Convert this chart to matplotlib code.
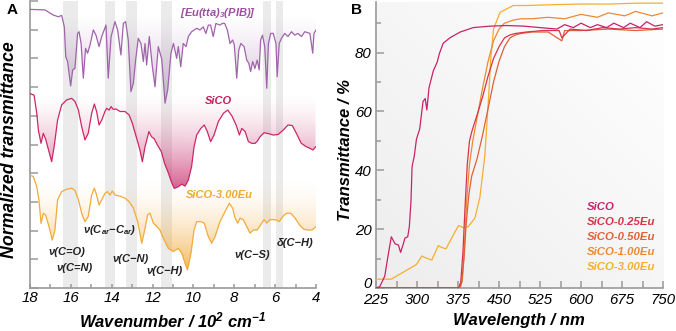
import numpy as np
import matplotlib
matplotlib.use("Agg")
from matplotlib import pyplot as plt
from matplotlib.path import Path
from matplotlib.colors import to_rgb
from matplotlib.ticker import MultipleLocator

plt.rcParams['font.family'] = ['Liberation Sans', 'DejaVu Sans']
plt.rcParams['mathtext.fontset'] = 'custom'
plt.rcParams['mathtext.it'] = 'Liberation Sans:italic:bold'
plt.rcParams['mathtext.rm'] = 'Liberation Sans:italic:bold'
plt.rcParams['mathtext.bf'] = 'Liberation Sans:italic:bold'

# ---- panel A : FTIR (wavenumber in 10^2 cm-1, normalized transmittance) ----
eu_wn = [18.1, 17.27, 16.86, 16.61, 16.45, 16.32, 16.25, 16.16, 16.01, 15.91, 15.8, 15.67, 15.6, 15.5,
         15.39, 15.28, 15.18, 15.06, 14.9, 14.77, 14.62, 14.49, 14.28, 14.17, 14.03, 13.84, 13.71,
         13.55, 13.43, 13.32, 13.19, 13.06, 12.94, 12.83, 12.7, 12.57, 12.45, 12.37, 12.29, 12.16,
         12.01, 11.88, 11.72, 11.55, 11.39, 11.26, 11.1, 10.98, 10.82, 10.74, 10.62, 10.5, 10.36,
         10.25, 10.09, 9.84, 9.68, 9.52, 9.39, 9.27, 9.16, 9.03, 8.9, 8.71, 8.58, 8.47, 8.34, 8.21,
         8.08, 8.0, 7.88, 7.78, 7.68, 7.52, 7.39, 7.29, 7.2, 7.1, 6.99, 6.88, 6.78, 6.71, 6.62, 6.51,
         6.41, 6.33, 6.22, 6.09, 5.96, 5.9, 5.8, 5.69, 5.53, 5.37, 5.2, 5.04, 4.88, 4.71, 4.55, 4.3,
         4.16, 4.1, 3.97]
eu_tr = [9.71, 9.69, 9.51, 9.45, 9.5, 9.1, 8.06, 7.89, 7.04, 7.6, 7.65, 8.87, 8.93, 8.53,
         7.31, 8.35, 8.18, 8.47, 8.99, 8.81, 8.41, 8.76, 9.16, 7.31, 8.76, 9.28, 8.99,
         8.12, 9.22, 9.28, 8.64, 6.84, 7.13, 7.94, 8.7, 8.52, 7.89, 8.52, 7.77, 8.76,
         7.71, 7.01, 8.41, 7.97, 6.44, 6.9, 8.18, 8.52, 8.0, 8.41, 7.71, 8.52, 8.41,
         8.76, 8.93, 9.05, 8.99, 9.1, 8.87, 9.16, 9.16, 8.76, 9.22, 9.16, 9.22, 9.22, 8.99, 8.52,
         8.64, 8.47, 7.31, 8.29, 8.52, 8.41, 7.94, 7.83, 7.54, 7.89, 7.65, 7.94, 7.6, 8.64, 8.81, 8.41,
         6.96, 8.52, 8.87, 8.87, 8.52, 7.36, 8.52, 8.7, 8.87, 8.76, 8.93, 8.81, 8.87, 8.76, 8.93, 8.87,
         8.18, 8.87, 9.02]

sico_wn = [18.1, 17.8, 17.67, 17.59, 17.46, 17.35, 17.24, 17.07, 16.94, 16.81, 16.65, 16.45, 16.21,
           15.96, 15.8, 15.63, 15.47, 15.31, 15.15, 14.98, 14.85, 14.74, 14.62, 14.49, 14.33, 14.25,
           14.13, 14.03, 13.92, 13.8, 13.59, 13.35, 13.15, 12.99, 12.78, 12.62, 12.5, 12.37, 12.18,
           12.05, 11.92, 11.76, 11.57, 11.41, 11.25, 11.08, 10.94, 10.74, 10.57, 10.41, 10.25, 10.09,
           9.97, 9.84, 9.64, 9.47, 9.32, 9.16, 8.99, 8.78, 8.53, 8.32, 8.12, 7.91, 7.75, 7.63, 7.47,
           7.31, 7.14, 6.98, 6.87, 6.74, 6.54, 6.33, 6.09, 5.85, 5.61, 5.37, 5.16, 4.96, 4.72, 4.47,
           4.28, 4.15, 4.02]
sico_tr = [6.8, 6.72, 6.09, 5.5, 5.04, 5.39, 5.2, 4.75, 4.4, 4.97, 5.85, 6.38, 6.55,
           6.61, 6.5, 6.2, 5.62, 5.16, 5.39, 6.09, 6.41, 6.15, 5.68, 5.85, 6.15, 6.26,
           6.2, 6.32, 6.22, 6.24, 6.15, 6.15, 6.03, 5.74, 5.22, 4.81, 4.4, 4.92, 5.45,
           5.27, 5.2, 4.98, 4.75, 4.34, 4.05, 3.7, 3.47, 3.53, 3.62, 3.55, 3.76, 4.23,
           4.92, 5.33, 5.56, 5.68, 5.45, 5.1, 5.33, 5.8, 6.09, 6.2, 6.0, 5.68, 5.33, 5.56, 5.45,
           5.1, 5.04, 5.04, 5.12, 5.27, 5.41, 5.38, 5.33, 5.35, 5.5, 5.68, 5.66, 5.39, 5.04, 4.92,
           4.86, 4.81, 4.92]

eu3_wn = [18.1, 17.84, 17.67, 17.56, 17.46, 17.35, 17.24, 17.07, 16.91, 16.78, 16.65, 16.45, 16.21,
          15.96, 15.8, 15.63, 15.47, 15.31, 15.15, 14.98, 14.85, 14.74, 14.62, 14.49, 14.33, 14.2,
          14.08, 13.97, 13.84, 13.59, 13.35, 13.15, 12.94, 12.73, 12.53, 12.4, 12.24, 12.13, 11.96,
          11.8, 11.64, 11.47, 11.23, 10.98, 10.74, 10.57, 10.41, 10.29, 10.12, 9.97, 9.84, 9.64,
          9.47, 9.27, 9.11, 8.94, 8.7, 8.45, 8.24, 8.08, 7.96, 7.83, 7.72, 7.56, 7.39, 7.23, 7.07,
          6.88, 6.71, 6.54, 6.41, 6.25, 6.0, 5.79, 5.63, 5.43, 5.23, 5.02, 4.81, 4.61, 4.41, 4.2, 3.98]
eu3_tr = [3.94, 3.89, 3.53, 3.06, 2.25, 2.6, 2.55, 2.14, 1.67, 2.02, 3.07, 3.36, 3.44,
          3.48, 3.4, 3.07, 2.6, 2.31, 2.49, 3.24, 3.48, 3.24, 2.89, 3.07, 3.3, 3.36,
          3.24, 3.38, 3.24, 3.2, 3.13, 3.01, 2.78, 2.31, 1.56, 1.97, 2.55, 2.61, 2.26,
          2.15, 2.02, 1.73, 1.38, 1.27, 1.38, 1.21, 0.86, 0.63, 1.21, 2.02, 2.31, 2.31,
          2.26, 1.79, 1.56, 1.79, 2.31, 2.67, 2.95, 2.78, 2.43, 2.26, 2.43, 2.38, 2.14, 1.91, 2.02,
          2.02, 2.2, 2.38, 2.26, 2.38, 2.38, 2.32, 2.49, 2.61, 2.6, 2.43, 2.2, 2.05, 2.02, 2.02, 2.14]

bands = [(16.38, 15.65), (14.33, 13.84), (13.30, 12.76), (11.59, 11.05), (6.60, 6.20), (5.96, 5.62)]

# ---- panel B : UV-vis transmittance ----
sico_nm = [225, 232, 241, 247, 253, 257, 260, 266, 270, 275, 278, 283, 286, 289, 291, 295, 299, 305,
           311, 315, 318, 322, 330, 337, 341, 348, 360, 379, 403, 434, 464, 495, 525, 556, 570, 586,
           600, 617, 630, 647, 660, 678, 690, 708, 720, 735, 750]
sico_t = [0, 0.5, 4, 10.9, 17.4, 16, 15, 14.6, 12.1, 15, 17, 17.4, 20.9, 29.6, 41.3, 44.8, 50.6, 54.1,
          63.4, 64.4, 60.5, 68.1, 73.9, 76.8, 79.7, 83.2, 85, 87, 88.5, 89, 89.2, 89, 88.5, 88, 89.5, 88.5,
          90, 88.5, 89.5, 88.5, 90, 88.5, 90, 88.5, 90.5, 89, 89.5]

e025_nm = [225, 376, 380, 384, 388, 392, 396, 400, 405, 412, 420, 430, 440, 450, 460, 470, 480, 500,
           530, 560, 565, 580, 610, 640, 670, 700, 730, 750]
e025_t = [0, 0, 2, 12, 28, 42, 50, 53, 56, 60, 65, 72, 78, 82, 85, 86, 86.5, 87,
          87.5, 87.5, 85, 88, 87.5, 88.5, 88, 88.5, 88, 88.5]

e050_nm = [225, 378, 382, 386, 390, 395, 400, 410, 420, 430, 440, 450, 460, 470, 480, 490, 510, 540,
           565, 570, 600, 650, 700, 750]
e050_t = [0, 0, 2, 10, 22, 32, 38, 44, 52, 61, 70, 77, 82, 85, 86, 86.5, 87, 87,
          84, 87.5, 87.5, 88, 87.5, 88]

e100_nm = [225, 379, 383, 387, 391, 396, 402, 410, 420, 430, 440, 450, 460, 475, 490, 510, 540, 570,
           600, 630, 650, 680, 700, 730, 750]
e100_t = [0, 0, 3, 15, 30, 42, 50, 58, 68, 77, 84, 88, 90, 91, 91.5, 91.5, 92, 91.5,
          93, 92, 93.5, 92.5, 94, 92.5, 93.5]

e300_nm = [225, 253, 299, 309, 315, 327, 339, 345, 353, 366, 376, 385, 394, 406, 415, 424, 430, 435,
           440, 452, 476, 500, 550, 600, 650, 700, 750]
e300_t = [3, 3, 8, 10.9, 10.3, 9.5, 14.4, 13.8, 13.3, 17.9, 21.2, 20.5, 20.9, 23.8, 30.8, 44.8, 62, 78,
          88, 93.7, 96, 96, 96.3, 96.5, 96.5, 96.8, 96.8]

uv_names = ["SiCO", "SiCO-0.25Eu", "SiCO-0.50Eu", "SiCO-1.00Eu", "SiCO-3.00Eu"]
uv_colors = ["#c8226a", "#d8344a", "#e0603a", "#ec8a32", "#f6ae2d"]


def grad_fill(ax, x, y, base, low, color, amax, power=1.6):
    x = np.asarray(x); y = np.asarray(y)
    verts = np.column_stack([np.r_[x, x[::-1]], np.r_[np.minimum(y, base), np.full(len(x), base)]])
    rgba = np.zeros((200, 1, 4))
    rgba[..., :3] = to_rgb(color)
    rgba[..., 3] = (amax * np.linspace(1, 0, 200) ** power)[:, None]
    im = ax.imshow(rgba, extent=[x.min(), x.max(), low, base], origin='lower',
                   aspect='auto', zorder=1, interpolation='bilinear')
    im.set_clip_path(Path(verts), ax.transData)


fig = plt.figure(figsize=(6.76, 3.31), dpi=100)
W, H = 676, 331
axA = fig.add_axes([30 / W, 1 - 288 / H, 286 / W, 287 / H])
axB = fig.add_axes([376 / W, 1 - 288 / H, 287 / W, 286 / H])

# panel A
for lo, hi in bands:
    axA.axvspan(lo, hi, color='#ebebeb', lw=0, zorder=0)
grad_fill(axA, eu_wn, eu_tr, 9.5, 6.4, '#8a4f96', 0.4, 1.2)
grad_fill(axA, sico_wn, sico_tr, 6.8, 3.4, '#c2185b', 0.7, 1.6)
grad_fill(axA, eu3_wn, eu3_tr, 3.9, 0.6, '#f0a020', 0.75, 1.8)
axA.plot(eu_wn, eu_tr, color='#a064ab', lw=0.9, zorder=3)
axA.plot(sico_wn, sico_tr, color='#cc2766', lw=0.9, zorder=3)
axA.plot(eu3_wn, eu3_tr, color='#f2aa3a', lw=0.9, zorder=3)
axA.set_xlim(18, 4)
axA.set_ylim(0, 10)
axA.set_xticks(np.arange(18, 3, -2))
axA.xaxis.set_minor_locator(MultipleLocator(1))
axA.set_yticks(np.arange(0, 11, 1))
axA.set_yticklabels([])

lab = dict(fontsize=8, fontweight='bold', fontstyle='italic', ha='center', va='center')
axA.text(8.8, 9.58, r'[Eu(tta)$_3$(PIB)]', color='#9b4fa0', **lab)
axA.text(8.8, 6.52, 'SiCO', color='#c41e5a', **lab)
axA.text(8.75, 3.24, 'SiCO-3.00Eu', color='#f0a830', **lab)
ann = dict(fontsize=8, fontweight='bold', fontstyle='italic', ha='center', va='center', color='#222222')
axA.text(16.19, 1.25, 'ν(C=O)', **ann)
axA.text(15.80, 0.70, 'ν(C=N)', **ann)
axA.text(14.08, 2.02, r'ν(C$_{ar}$−C$_{ar}$)', **ann)
axA.text(13.06, 1.01, 'ν(C−N)', **ann)
axA.text(11.39, 0.59, 'ν(C−H)', **ann)
axA.text(7.13, 1.15, 'ν(C−S)', **ann)
axA.text(5.03, 1.57, 'δ(C−H)', **ann)

# panel B
g = np.linspace(0, 1, 100)
shade = (g[None, :] + g[::-1, None]) / 2
bg = np.ones((100, 100, 3)) * (1 - 0.07 * (1 - shade))[..., None]
axB.imshow(bg, extent=[0, 1, 0, 1], transform=axB.transAxes, aspect='auto', zorder=0)
uv = [(sico_nm, sico_t), (e025_nm, e025_t), (e050_nm, e050_t), (e100_nm, e100_t), (e300_nm, e300_t)]
for (x, y), c in zip(uv[::-1], uv_colors[::-1]):
    axB.plot(x, y, color=c, lw=0.9, zorder=3)
axB.set_xlim(225, 750)
axB.set_ylim(0, 97.2)
axB.set_xticks(np.arange(225, 751, 75))
axB.xaxis.set_minor_locator(MultipleLocator(37.5))
axB.set_yticks(np.arange(0, 81, 20))
axB.yaxis.set_minor_locator(MultipleLocator(10))
for i, (n, c) in enumerate(zip(uv_names, uv_colors)):
    axB.text(0.735, 0.283 - i * 0.0525, n, color=c, transform=axB.transAxes, fontsize=8.2,
             fontweight='bold', fontstyle='italic', ha='left', va='center')

for ax in (axA, axB):
    ax.spines[['top', 'right']].set_visible(False)
    for s in ('left', 'bottom'):
        ax.spines[s].set_color('#9a9a9a')
        ax.spines[s].set_linewidth(1.2)
    ax.tick_params(which='both', direction='in', color='#9a9a9a', width=1.1,
                   labelsize=10.8, pad=2)
    for t in ax.get_xticklabels() + ax.get_yticklabels():
        t.set_fontstyle('italic')
axA.tick_params(axis='y', length=6)
axA.tick_params(axis='x', which='both', length=3)
axB.tick_params(axis='x', which='both', length=5, pad=3.5)
axB.tick_params(axis='y', which='major', length=6, pad=3)
axB.tick_params(axis='y', which='minor', length=3.5)
axB.yaxis.get_major_ticks()[0].label1.set_va('baseline')

big = dict(fontsize=12, fontweight='bold', fontstyle='italic', ha='center', va='center')
fig.text(173 / W, 1 - 320 / H, r'Wavenumber / 10$^2$ cm$^{-1}$', **big)
fig.text(519 / W, 1 - 320 / H, 'Wavelength / nm', **big)
fig.text(10 / W, 1 - 150 / H, 'Normalized transmittance', rotation=90, fontsize=12.8,
         fontweight='bold', fontstyle='italic', ha='center', va='center')
fig.text(345 / W, 1 - 150 / H, 'Transmittance / %', rotation=90, **big)
fig.text(7 / W, 1 - 10 / H, 'A', fontsize=11, fontweight='bold', ha='left', va='center')
fig.text(351 / W, 1 - 10 / H, 'B', fontsize=11, fontweight='bold', ha='left', va='center')

fig.savefig('out.png', dpi=100)
